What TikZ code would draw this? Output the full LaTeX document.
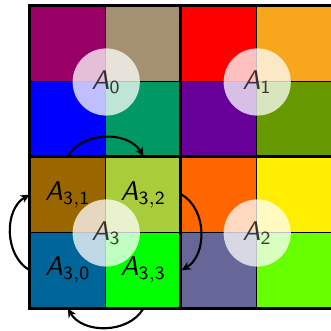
\documentclass[tikz,border=0pt]{standalone}
\usetikzlibrary{arrows.meta}
\definecolor{cMag}{HTML}{990066}
\definecolor{cTan}{HTML}{A39171}
\definecolor{cBlue}{HTML}{0000FF}
\definecolor{cTeal}{HTML}{009966}
\definecolor{cRed}{HTML}{FF0000}
\definecolor{cOrg}{HTML}{F9A61F}
\definecolor{cPur}{HTML}{660099}
\definecolor{cOli}{HTML}{669900}
\definecolor{cBrn}{HTML}{996600}
\definecolor{cYg}{HTML}{A8CC3A}
\definecolor{cStl}{HTML}{006699}
\definecolor{cGrn}{HTML}{00FF00}
\definecolor{cOr2}{HTML}{FF6600}
\definecolor{cYel}{HTML}{FFEE00}
\definecolor{cSla}{HTML}{666699}
\definecolor{cLim}{HTML}{66FF00}
\newcommand{\lbl}[1]{$\textsf{\textsl{A}}_{\mathsf{#1}}$}
\tikzset{
  cell/.style={draw=black, line width=0.45pt, minimum size=1cm, inner sep=0pt, anchor=south west, fill=#1},
  blob/.style={circle, fill=white, fill opacity=0.75, text opacity=0.75, minimum size=0.89cm, inner sep=0pt, font=\fontsize{10.2}{12}\selectfont},
  sublbl/.style={font=\fontsize{10.2}{12}\selectfont, inner sep=0pt},
  quad/.style={line width=1.2pt},
  cyc/.style={line width=0.8pt, -{Stealth[length=3.4pt,width=3.2pt]}, bend left=60}
}
\begin{document}
\begin{tikzpicture}
\useasboundingbox (-0.391,-0.285) rectangle (3.993,4.086);
% A0 (top-left)
\node[cell=cMag] (a00) at (0,3) {};
\node[cell=cTan] (a01) at (1,3) {};
\node[cell=cBlue] (a02) at (0,2) {};
\node[cell=cTeal] (a03) at (1,2) {};
% A1 (top-right)
\node[cell=cRed] (a10) at (2,3) {};
\node[cell=cOrg] (a11) at (3,3) {};
\node[cell=cPur] (a12) at (2,2) {};
\node[cell=cOli] (a13) at (3,2) {};
% A3 (bottom-left)
\node[cell=cBrn] (c31) at (0,1) {};
\node[cell=cYg] (c32) at (1,1) {};
\node[cell=cStl] (c30) at (0,0) {};
\node[cell=cGrn] (c33) at (1,0) {};
% A2 (bottom-right)
\node[cell=cOr2] (a20) at (2,1) {};
\node[cell=cYel] (a21) at (3,1) {};
\node[cell=cSla] (a22) at (2,0) {};
\node[cell=cLim] (a23) at (3,0) {};
% quadrant borders
\draw[quad] (c30.south west) rectangle (a11.north east);
\draw[quad] (a10.north west) -- (a22.south west);
\draw[quad] (c31.north west) -- (a21.north east);
% circles
\node[blob] (q0) at (a00.south east) {\lbl{0}};
\node[blob] (q1) at (a10.south east) {\lbl{1}};
\node[blob] (q2) at (a20.south east) {\lbl{2}};
\node[blob] (q3) at (c31.south east) {\lbl{3}};
% cell labels
\node[sublbl] (l31) at (c31.center) {\lbl{3,1}};
\node[sublbl] (l32) at (c32.center) {\lbl{3,2}};
\node[sublbl] (l30) at (c30.center) {\lbl{3,0}};
\node[sublbl] (l33) at (c33.center) {\lbl{3,3}};
% cycle arrows
\draw[cyc] (c31.north) to (c32.north);
\draw[cyc] (c32.east) to (c33.east);
\draw[cyc] (c33.south) to (c30.south);
\draw[cyc] (c30.west) to (c31.west);
\end{tikzpicture}
\end{document}
